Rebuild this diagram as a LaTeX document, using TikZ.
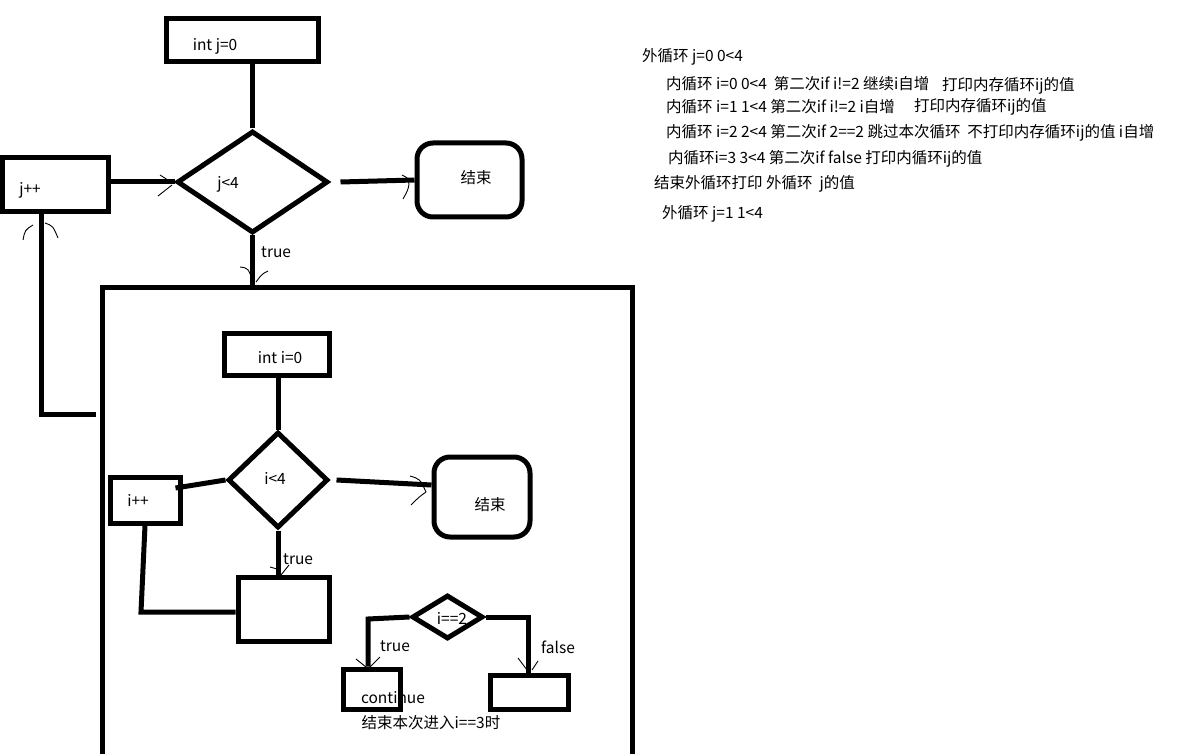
\documentclass[tikz,border=0pt]{standalone}
\usepackage{fontspec}
\setmainfont{Noto Sans CJK SC}
\usetikzlibrary{shapes.geometric}
\begin{document}
\begin{tikzpicture}[x=1pt,y=-1pt,
  every node/.style={font=\fontsize{15.5}{18}\selectfont, inner sep=0pt},
  ln/.style={line width=5pt},
  box/.style={draw, line width=5pt, rectangle, inner sep=0pt},
  endbox/.style={box, rounded corners=16pt},
  dia/.style={draw, line width=5pt, diamond, inner sep=0pt},
  tick/.style={line width=0.9pt},
  txt/.style={inner sep=0pt, anchor=center},
  ltxt/.style={inner sep=0pt, anchor=west},
]
\useasboundingbox[fill=white] (0,0) rectangle (1186,754);
\clip (0,0) rectangle (1186,754);

% ---------- outer loop ----------
\node[box, minimum width=152, minimum height=43] (initj) at (242,40.5) {};
\node[txt] (tinitj) at (215,46) {int j=0};
\node[dia, minimum width=151, minimum height=102] (condj) at (252.5,182) {};
\node[txt] (tcondj) at (228,184) {j<4};
\node[endbox, minimum width=105, minimum height=74] (endj) at (469.5,180) {};
\node[txt] (tendj) at (476,178) {结束};
\node[box, minimum width=106, minimum height=54] (incj) at (55,185) {};
\node[txt] (tincj) at (30,190) {j++};
\node[box, minimum width=530, minimum height=520] (outer) at (367,547) {};

\draw[ln] (condj.north |- initj.south) -- (condj.north);
\draw[ln] ([xshift=10pt]condj.east) -- (endj.west);
\draw[ln] (incj.east |- condj.west) -- (condj.west);
\draw[ln] (condj.south) -- (condj.south |- outer.north);
\node[ltxt] (ttruej) at (261,252) {true};
\coordinate (lp) at (41,414);
\draw[ln] ([xshift=-4pt]outer.west |- lp) -- (lp) -- (lp |- incj.south);

% ticks (outer)
\draw[tick] (160,175) -- (171,182);
\draw[tick] (158,196) -- (172,185);
\draw[tick] (402,175) .. controls (408,178) .. (409,184) .. controls (408,190) .. (403,199);
\draw[tick] (240,267) .. controls (248,268) .. (253,281);
\draw[tick] (268,271) .. controls (262,274) .. (256,282);
\draw[tick] (23,240) .. controls (25,230) .. (33,225);
\draw[tick] (45,223) .. controls (53,226) .. (58,238);

% ---------- inner loop ----------
\node[box, minimum width=105, minimum height=42] (initi) at (276.5,354) {};
\node[txt] (tiniti) at (280,358) {int i=0};
\node[dia, minimum width=100, minimum height=96] (condi) at (278,480) {};
\node[txt] (tcondi) at (275,478) {i<4};
\node[endbox, minimum width=96, minimum height=80] (endi) at (482,497) {};
\node[txt] (tendi) at (490,505) {结束};
\node[box, minimum width=70, minimum height=46] (inci) at (145,500) {};
\node[txt] (tinci) at (138,500) {i++};
\node[box, minimum width=91, minimum height=64] (body) at (283.5,609) {};

\draw[ln] (condi.north |- initi.south) -- (condi.north);
\draw[ln] ([xshift=6pt]condi.east) -- ([yshift=12pt]endi.west);
\draw[ln] ([shift={(-7pt,12pt)}]inci.east) -- (condi.west);
\coordinate (ib) at (141,612);
\draw[ln] (inci.south) -- (ib) -- (body.west |- ib);
\draw[ln] (condi.south) -- (body.north -| condi.south);
\node[ltxt] (ttruei) at (283,559) {true};

\draw[tick] (410,476) .. controls (420,479) .. (426,492);
\draw[tick] (426,492) .. controls (419,497) .. (411,505);
\draw[tick] (270,567) -- (277,569);
\draw[tick] (289,565) -- (281,575);

% ---------- i==2 ----------
\node[dia, minimum width=71, minimum height=44] (cond2) at (447.5,617) {};
\node[txt] (tcond2) at (452,618) {i==2};
\node[box, minimum width=57, minimum height=40] (cont) at (371.5,689) {};
\node[box, minimum width=78, minimum height=34] (fbox) at (529,692) {};
\node[txt] (tcont) at (393,698) {continue};
\node[txt] (tnote) at (431,723) {结束本次进入i==3时};
\coordinate (tl) at (368,619);
\coordinate (fr) at (528,617);
\draw[ln] (cond2.west) -- (tl) -- (tl |- cont.north);
\draw[ln] (cond2.east) -- (fr) -- (fr |- fbox.north);
\node[txt] (ttrue2) at (395,646) {true};
\node[txt] (tfalse2) at (558,647) {false};
\draw[tick] (356,659) -- (366,667);
\draw[tick] (380,657) -- (370,667);
\draw[tick] (518,658) -- (527,670);
\draw[tick] (538,661) -- (532,670);

% ---------- notes ----------
\node[ltxt] (n1) at (642,57) {外循环 j=0 0<4};
\node[ltxt] (n2) at (666,84) {内循环 i=0 0<4\ \ 第二次if i!=2 继续i自增};
\node[ltxt] (n2b) at (942,86) {打印内存循环ij的值};
\node[ltxt] (n3) at (666,107) {内循环 i=1 1<4 第二次if i!=2 i自增};
\node[ltxt] (n3b) at (914,107) {打印内存循环ij的值};
\node[ltxt] (n4) at (666,133) {内循环 i=2 2<4 第二次if 2==2 跳过本次循环\ \ 不打印内存循环ij的值 i自增};
\node[ltxt] (n5) at (668,159) {内循环i=3 3<4 第二次if false 打印内循环ij的值};
\node[ltxt] (n6) at (654,184) {结束外循环打印 外循环\ \ j的值};
\node[ltxt] (n7) at (662,214) {外循环 j=1 1<4};
\end{tikzpicture}
\end{document}
